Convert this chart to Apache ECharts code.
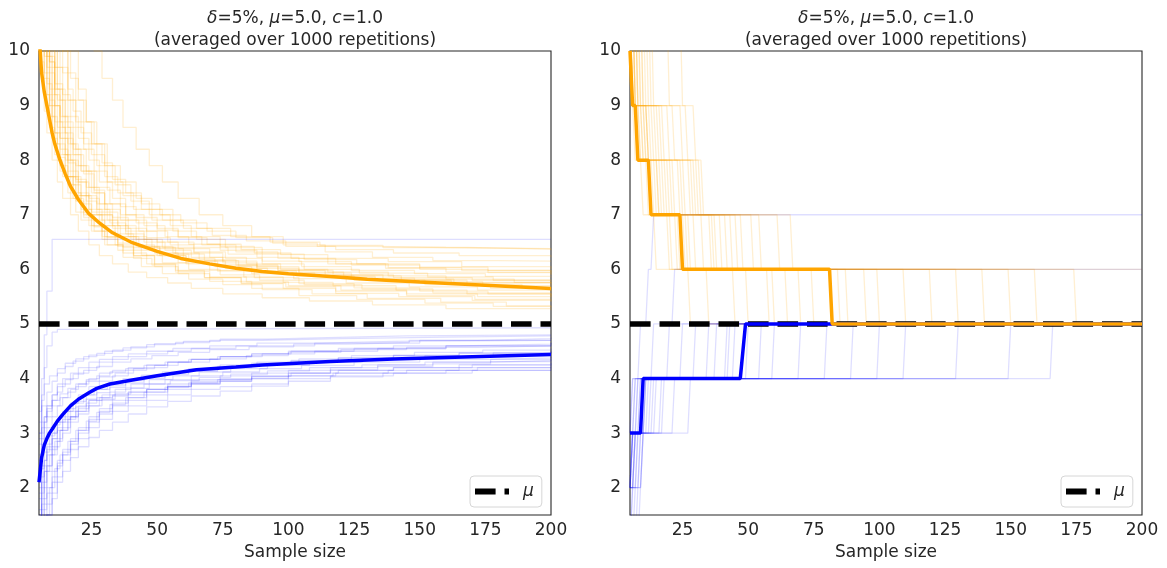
<!DOCTYPE html>
<html><head><meta charset="utf-8">
<script src="https://cdn.jsdelivr.net/npm/echarts@6/dist/echarts.min.js"></script>
<style>html,body{margin:0;padding:0;background:#fff}#c{width:1167px;height:568px}</style>
</head><body><div id="c"></div><script>
// ---------- data ----------
const X_TICKS = [25, 50, 75, 100, 125, 150, 175, 200];
const Y_TICKS = [2, 3, 4, 5, 6, 7, 8, 9, 10];
const MU = 5.0;
const X_RANGE = [5, 200];

// Left panel: individual runs, flat lists of (sample size, bound) where the bound changes
const ORANGE_L = [
  [5,12, 7,10.8, 9,9.9, 11,9.3, 13,8.8, 16,8.3, 19,7.9, 23,7.5, 27,7.2, 31,6.9, 38,6.7, 45,6.55, 52,6.4, 64,6.3, 75,6.15, 88,6.05, 104,5.95, 121,5.88, 143,5.8, 168,5.72, 189,5.67, 200,5.65],
  [5,13, 6,11.8, 8,10.6, 10,9.7, 12,9.1, 15,8.5, 18,8.1, 21,7.8, 26,7.4, 30,7.1, 36,6.9, 43,6.7, 50,6.5, 58,6.38, 70,6.22, 84,6.1, 97,6.0, 115,5.95, 138,5.88, 160,5.82, 186,5.76, 200,5.75],
  [5,11, 6,10.1, 8,9.2, 10,8.5, 12,8.0, 14,7.7, 17,7.3, 21,6.9, 25,6.7, 30,6.45, 37,6.3, 46,6.1, 57,5.98, 68,5.85, 82,5.75, 99,5.68, 118,5.6, 145,5.52, 171,5.45, 200,5.42],
  [5,14, 7,12, 10,10.8, 12,10.1, 14,9.6, 16,9.1, 19,8.7, 22,8.3, 27,7.9, 31,7.6, 37,7.35, 44,7.1, 52,6.9, 60,6.75, 71,6.62, 84,6.52, 99,6.42, 118,6.36, 140,6.3, 165,6.25, 200,6.22],
  [5,12, 7,10.3, 9,9.3, 11,8.7, 14,8.1, 17,7.7, 20,7.35, 24,7.0, 29,6.7, 34,6.45, 41,6.25, 49,6.05, 58,5.92, 70,5.78, 86,5.65, 104,5.52, 126,5.45, 152,5.38, 178,5.32, 200,5.3],
  [5,15, 9,12, 12,10.5, 14,10, 17,9.5, 20,9.1, 23,8.7, 27,8.3, 31,7.9, 36,7.6, 42,7.3, 48,7.1, 56,6.9, 65,6.75, 78,6.6, 93,6.5, 112,6.44, 136,6.4, 168,6.37, 200,6.35],
  [5,11.5, 6,10.5, 7,9.9, 9,9.1, 11,8.5, 13,8.1, 16,7.7, 19,7.35, 23,7.0, 28,6.8, 34,6.6, 42,6.42, 51,6.28, 62,6.15, 76,6.02, 92,5.93, 110,5.87, 133,5.8, 162,5.75, 200,5.7],
  [5,12.5, 7,10.9, 9,10.0, 11,9.3, 14,8.6, 17,8.0, 20,7.6, 24,7.3, 28,7.0, 33,6.8, 39,6.6, 46,6.42, 56,6.3, 66,6.18, 80,6.08, 96,5.98, 117,5.9, 140,5.85, 170,5.8, 200,5.8],
  [5,10.5, 6,9.8, 7,9.2, 9,8.6, 11,8.1, 13,7.8, 16,7.4, 19,7.05, 24,6.8, 29,6.6, 35,6.48, 41,6.35, 50,6.25, 61,6.15, 73,6.08, 88,5.97, 103,5.88, 125,5.8, 152,5.72, 177,5.65, 200,5.6],
  [5,13.5, 7,11.6, 9,10.5, 11,9.7, 13,9.1, 16,8.6, 19,8.2, 23,7.8, 27,7.5, 32,7.2, 38,6.9, 46,6.7, 54,6.5, 64,6.4, 77,6.28, 90,6.15, 105,6.05, 124,5.98, 148,5.92, 175,5.87, 200,5.85],
  [5,11, 6,10.3, 8,9.4, 10,8.8, 12,8.3, 15,7.7, 18,7.3, 22,6.95, 26,6.7, 31,6.45, 37,6.22, 44,6.05, 52,5.92, 62,5.82, 75,5.72, 90,5.63, 109,5.55, 130,5.47, 158,5.4, 183,5.33, 200,5.3],
  [5,12, 7,10.6, 9,9.8, 11,9.2, 13,8.7, 15,8.4, 18,8.1, 22,7.75, 26,7.45, 30,7.2, 36,7.0, 42,6.85, 50,6.72, 58,6.6, 67,6.45, 80,6.32, 96,6.2, 115,6.1, 138,6.03, 166,5.98, 200,5.95],
  [5,16, 9,13, 11,12, 14,10.5, 17,10, 20,9.3, 23,8.7, 26,8.3, 30,7.9, 34,7.55, 40,7.25, 47,7.0, 55,6.8, 63,6.6, 74,6.42, 87,6.3, 101,6.2, 118,6.1, 137,6.02, 160,5.95, 200,5.9],
  [5,10.8, 6,10.0, 8,9.0, 10,8.4, 12,8.05, 15,7.7, 18,7.4, 21,7.1, 25,6.8, 29,6.55, 35,6.35, 41,6.2, 48,6.08, 57,5.95, 68,5.85, 82,5.74, 98,5.65, 118,5.56, 142,5.5, 170,5.43, 200,5.4],
  [5,12, 7,10.5, 9,9.6, 11,9.0, 13,8.5, 16,8.0, 19,7.65, 23,7.35, 27,7.1, 32,6.85, 38,6.65, 45,6.5, 53,6.35, 63,6.22, 75,6.12, 88,6.02, 104,5.93, 124,5.84, 148,5.77, 174,5.7, 200,5.65],
  [5,13, 7,11.4, 10,10.2, 12,9.7, 14,9.2, 17,8.8, 20,8.4, 24,8.0, 28,7.6, 33,7.3, 38,7.0, 45,6.8, 53,6.6, 62,6.46, 74,6.35, 88,6.22, 104,6.14, 124,6.08, 150,6.0, 176,5.94, 200,5.9],
  [5,11.2, 6,10.3, 7,9.6, 9,9.0, 11,8.5, 13,8.2, 16,7.8, 20,7.4, 24,7.1, 29,6.9, 35,6.65, 41,6.45, 49,6.3, 58,6.12, 70,5.98, 83,5.86, 98,5.76, 117,5.7, 141,5.62, 168,5.55, 200,5.5],
  [5,14, 7,12.2, 9,11.0, 11,10.3, 13,9.7, 16,9.1, 19,8.6, 22,8.2, 26,7.8, 31,7.45, 36,7.15, 42,6.95, 50,6.75, 58,6.58, 69,6.46, 82,6.36, 97,6.27, 115,6.2, 138,6.14, 166,6.05, 200,6.0],
  [5,11.8, 6,11.0, 8,9.9, 10,9.2, 12,8.6, 15,8.1, 18,7.7, 21,7.35, 25,7.05, 30,6.8, 36,6.6, 43,6.4, 51,6.25, 61,6.1, 73,5.97, 87,5.85, 104,5.74, 125,5.66, 150,5.6, 176,5.55, 200,5.5],
  [5,12.8, 7,11.0, 9,10.1, 11,9.4, 14,8.8, 17,8.3, 20,7.9, 24,7.5, 28,7.2, 33,6.95, 39,6.75, 46,6.58, 55,6.45, 64,6.32, 76,6.2, 90,6.1, 106,6.0, 127,5.93, 153,5.86, 178,5.8, 200,5.75],
  [5,16, 12,13, 18,11.5, 22,10.5, 26,10.0, 29,9.5, 33,9.1, 37,8.6, 42,8.2, 47,7.9, 52,7.6, 58,7.3, 66,7.0, 75,6.8, 86,6.6, 98,6.45, 114,6.32, 132,6.22, 155,6.16, 180,6.15, 200,6.15],
  [5,10.2, 6,9.5, 7,8.9, 8,8.5, 10,8.0, 12,7.6, 14,7.3, 17,7.0, 20,6.7, 24,6.45, 28,6.25, 33,6.1, 39,5.95, 46,5.85, 54,5.75, 63,5.65, 75,5.55, 90,5.48, 108,5.42, 132,5.35, 160,5.28, 200,5.25],
  [5,13, 7,11.2, 9,10.2, 12,9.3, 15,8.7, 18,8.2, 21,7.8, 25,7.4, 30,7.05, 35,6.8, 42,6.55, 50,6.38, 60,6.2, 72,6.05, 86,5.92, 102,5.83, 122,5.75, 146,5.68, 172,5.62, 200,5.58],
  [5,11.4, 6,10.6, 8,9.7, 10,9.0, 13,8.4, 16,7.95, 19,7.6, 23,7.25, 27,7.0, 33,6.75, 40,6.55, 48,6.4, 57,6.28, 68,6.16, 81,6.06, 96,5.98, 114,5.9, 136,5.82, 163,5.76, 200,5.72],
  [5,15, 8,12.5, 11,11, 14,10.2, 16,9.6, 19,9.1, 22,8.7, 25,8.3, 29,7.95, 33,7.65, 38,7.4, 44,7.2, 51,7.0, 59,6.85, 69,6.7, 80,6.58, 94,6.48, 111,6.42, 133,6.4, 160,6.38, 200,6.38],
  [5,12.2, 7,10.8, 9,9.8, 11,9.0, 13,8.4, 15,8.0, 18,7.55, 21,7.2, 25,6.9, 30,6.6, 35,6.42, 41,6.25, 49,6.1, 58,5.97, 70,5.86, 84,5.77, 100,5.7, 120,5.62, 145,5.55, 172,5.5, 200,5.45],
  [5,14.5, 8,12.2, 10,11.0, 13,10.0, 16,9.3, 18,8.9, 21,8.5, 25,8.1, 30,7.7, 35,7.4, 41,7.1, 48,6.9, 56,6.7, 65,6.55, 76,6.4, 90,6.28, 106,6.18, 126,6.1, 150,6.04, 176,5.98, 200,5.95],
  [5,10.9, 6,10.2, 7,9.5, 9,8.8, 11,8.3, 13,7.9, 16,7.55, 19,7.25, 22,7.0, 26,6.78, 31,6.58, 37,6.4, 44,6.26, 52,6.12, 62,6.0, 74,5.9, 89,5.8, 106,5.72, 128,5.64, 155,5.57, 200,5.52]
];
const BLUE_L = [
  [5,1.0, 6,1.6, 7,2.0, 8,2.3, 10,2.6, 12,2.85, 14,3.0, 17,3.2, 20,3.35, 24,3.5, 29,3.62, 34,3.72, 40,3.82, 47,3.9, 55,3.96, 66,4.02, 78,4.08, 92,4.14, 108,4.2, 128,4.25, 152,4.3, 178,4.33, 200,4.35],
  [5,2.0, 6,2.4, 8,2.75, 10,3.0, 12,3.2, 15,3.4, 18,3.55, 22,3.7, 26,3.8, 31,3.9, 37,4.0, 44,4.06, 52,4.12, 62,4.18, 74,4.25, 88,4.3, 104,4.36, 124,4.42, 148,4.48, 174,4.52, 200,4.55],
  [5,0.5, 6,1.0, 7,1.4, 8,1.7, 10,2.1, 12,2.4, 14,2.6, 17,2.8, 20,3.0, 24,3.2, 28,3.35, 33,3.5, 39,3.6, 46,3.7, 54,3.8, 63,3.9, 74,3.95, 86,4.0, 100,4.05, 117,4.1, 138,4.15, 165,4.2, 200,4.2],
  [5,2.8, 6,3.1, 7,3.3, 8,3.5, 10,3.7, 12,3.85, 15,3.98, 18,4.08, 22,4.15, 27,4.22, 33,4.3, 40,4.36, 48,4.42, 58,4.48, 70,4.53, 85,4.58, 102,4.63, 122,4.66, 146,4.7, 172,4.73, 200,4.75],
  [5,1.5, 6,2.0, 7,2.3, 9,2.6, 11,2.85, 13,3.05, 16,3.25, 19,3.4, 23,3.55, 27,3.65, 32,3.75, 38,3.83, 45,3.9, 53,3.98, 63,4.05, 75,4.12, 89,4.18, 105,4.24, 125,4.3, 150,4.35, 176,4.38, 200,4.4],
  [5,0.2, 6,0.8, 7,1.2, 8,1.5, 10,1.8, 12,2.1, 14,2.3, 17,2.55, 20,2.75, 24,2.92, 28,3.05, 33,3.2, 39,3.35, 46,3.48, 54,3.58, 63,3.68, 74,3.77, 86,3.86, 100,3.95, 116,4.03, 136,4.1, 160,4.15, 200,4.2],
  [5,2.4, 6,2.8, 7,3.1, 8,3.3, 10,3.5, 13,3.65, 16,3.75, 19,3.85, 23,3.95, 28,4.03, 34,4.1, 41,4.18, 49,4.24, 58,4.3, 70,4.36, 84,4.42, 100,4.48, 120,4.53, 145,4.57, 172,4.6, 200,4.6],
  [5,1.2, 6,1.7, 7,2.1, 8,2.4, 10,2.7, 12,2.9, 14,3.1, 17,3.3, 20,3.45, 24,3.6, 29,3.7, 34,3.8, 40,3.9, 47,3.98, 56,4.05, 66,4.12, 78,4.18, 92,4.24, 108,4.3, 128,4.36, 152,4.42, 178,4.47, 200,4.5],
  [5,3.2, 6,3.5, 8,3.75, 10,3.95, 12,4.1, 15,4.22, 18,4.32, 22,4.4, 27,4.46, 33,4.52, 40,4.58, 49,4.64, 60,4.68, 74,4.72, 92,4.75, 115,4.78, 145,4.8, 200,4.8],
  [5,1.8, 6,2.2, 7,2.5, 8,2.7, 10,2.9, 12,3.05, 14,3.2, 17,3.3, 20,3.4, 24,3.5, 28,3.6, 33,3.68, 39,3.75, 46,3.8, 54,3.86, 63,3.92, 74,3.98, 86,4.03, 100,4.1, 116,4.16, 134,4.22, 155,4.27, 177,4.31, 200,4.35],
  [5,0.8, 6,1.3, 7,1.7, 8,2.0, 10,2.3, 12,2.5, 14,2.7, 17,2.9, 20,3.1, 24,3.3, 28,3.45, 33,3.6, 39,3.7, 46,3.8, 54,3.9, 63,3.98, 74,4.05, 86,4.1, 100,4.15, 116,4.2, 134,4.25, 155,4.3, 177,4.35, 200,4.4],
  [5,2.2, 6,2.6, 7,2.9, 8,3.1, 10,3.3, 12,3.5, 14,3.65, 17,3.8, 20,3.9, 24,4.0, 28,4.1, 33,4.15, 39,4.2, 46,4.25, 54,4.3, 63,4.35, 74,4.4, 90,4.45, 110,4.5, 134,4.55, 160,4.6, 200,4.65],
  [5,1.4, 6,1.9, 7,2.3, 8,2.6, 10,2.9, 12,3.1, 14,3.25, 17,3.4, 20,3.5, 24,3.6, 28,3.65, 33,3.7, 39,3.75, 46,3.8, 54,3.85, 63,3.9, 74,3.95, 86,4.0, 100,4.05, 118,4.1, 145,4.15, 172,4.2, 200,4.25],
  [5,2.6, 6,3.0, 7,3.3, 8,3.5, 10,3.7, 12,3.9, 14,4.0, 17,4.1, 20,4.2, 24,4.3, 28,4.35, 33,4.4, 39,4.45, 46,4.5, 56,4.55, 70,4.6, 88,4.65, 112,4.68, 140,4.7, 200,4.7],
  [5,0.0, 6,0.6, 7,1.1, 8,1.5, 10,1.9, 12,2.2, 14,2.5, 17,2.7, 20,2.9, 24,3.1, 28,3.25, 33,3.4, 39,3.5, 46,3.6, 54,3.7, 63,3.8, 74,3.85, 86,3.9, 100,4.0, 116,4.05, 140,4.1, 170,4.15, 200,4.15],
  [5,3.0, 6,3.6, 7,4.2, 8,4.6, 10,4.85, 12,4.9, 15,4.93, 200,4.93],
  [5,3.0, 6,4.0, 7,4.8, 8,5.6, 10,6.55, 200,6.55],
  [5,1.6, 6,2.1, 7,2.5, 8,2.8, 10,3.0, 12,3.2, 14,3.4, 17,3.55, 20,3.7, 24,3.85, 28,3.95, 33,4.05, 39,4.15, 46,4.2, 54,4.3, 63,4.35, 74,4.4, 86,4.45, 100,4.5, 125,4.55, 160,4.6, 200,4.6],
  [5,0.6, 6,1.2, 7,1.6, 8,1.9, 10,2.2, 12,2.45, 14,2.65, 17,2.85, 20,3.05, 24,3.25, 28,3.4, 33,3.55, 39,3.65, 46,3.75, 54,3.85, 63,3.95, 74,4.0, 86,4.05, 100,4.1, 116,4.15, 140,4.2, 170,4.25, 200,4.3],
  [5,2.5, 6,2.9, 7,3.2, 8,3.4, 10,3.6, 12,3.75, 14,3.9, 17,4.0, 20,4.1, 24,4.2, 28,4.3, 33,4.35, 39,4.4, 46,4.45, 54,4.5, 63,4.55, 80,4.6, 110,4.65, 150,4.7, 200,4.7],
  [5,1.1, 6,1.8, 8,2.4, 10,2.75, 13,3.05, 16,3.3, 19,3.48, 23,3.62, 27,3.74, 32,3.84, 38,3.92, 45,4.0, 53,4.07, 62,4.13, 73,4.2, 86,4.26, 101,4.32, 119,4.38, 140,4.43, 165,4.47, 200,4.5],
  [5,2.9, 6,3.2, 8,3.45, 10,3.6, 13,3.72, 16,3.82, 19,3.9, 23,3.98, 27,4.05, 32,4.12, 38,4.18, 45,4.24, 53,4.3, 62,4.35, 73,4.4, 86,4.45, 101,4.5, 119,4.55, 140,4.6, 165,4.63, 200,4.66],
  [5,0.3, 6,0.9, 7,1.5, 9,2.0, 11,2.35, 13,2.6, 16,2.85, 19,3.05, 23,3.22, 27,3.38, 32,3.52, 38,3.65, 45,3.75, 53,3.84, 62,3.92, 73,3.98, 86,4.04, 101,4.1, 119,4.15, 140,4.2, 165,4.25, 200,4.28],
  [5,1.9, 6,2.35, 7,2.65, 9,2.95, 11,3.15, 13,3.3, 16,3.45, 19,3.58, 23,3.7, 27,3.8, 32,3.88, 38,3.96, 45,4.03, 53,4.1, 62,4.16, 73,4.22, 86,4.28, 101,4.33, 119,4.38, 140,4.42, 165,4.46, 200,4.48],
  [5,3.4, 6,3.7, 7,3.9, 9,4.05, 12,4.18, 15,4.28, 19,4.36, 24,4.43, 30,4.5, 37,4.56, 46,4.62, 57,4.66, 70,4.7, 90,4.73, 120,4.76, 160,4.78, 200,4.78]
];
// Left panel: averaged curves
const OM_X = [5,6,7,8,9,10,11,12,13,15,17,20,24,28,33,40,50,59,70,80,90,100,116,130,150,175,200];
const OM_Y = [10.3,9.6,9.25,9.0,8.75,8.5,8.3,8.15,8.0,7.75,7.52,7.28,7.02,6.85,6.67,6.5,6.33,6.2,6.1,6.02,5.96,5.92,5.87,5.82,5.77,5.71,5.65];
const BM_X = [5,6,7,8,9,10,12,14,17,20,24,27,32,40,50,65,80,90,116,140,170,200];
const BM_Y = [2.1,2.55,2.78,2.9,3.0,3.07,3.22,3.34,3.5,3.62,3.74,3.82,3.9,3.97,4.05,4.16,4.21,4.25,4.31,4.36,4.4,4.44];

// Right panel: integer-valued runs, [start value, [[sample size, new value], ...]]
const ORANGE_R = [
  [11, [[7,9],[12,8],[18,7],[30,6],[60,5]]],
  [11, [[6,9],[9,8],[14,7],[24,6],[45,5]]],
  [11, [[10,9],[20,8],[28,7],[40,6],[110,5]]],
  [11, [[8,9],[11,8],[16,7],[26,6],[82,5]]],
  [11, [[6,9],[8,8],[12,7],[20,6],[35,5]]],
  [11, [[12,9],[25,8],[32,7],[55,6],[150,5]]],
  [11, [[7,9],[10,8],[22,7],[37,6],[70,5]]],
  [11, [[9,9],[14,8],[19,7],[33,6],[95,5]]],
  [11, [[6,9],[7,8],[10,7],[15,6],[28,5]]],
  [11, [[14,9],[17,8],[25,7],[48,6],[175,5]]],
  [11, [[8,9],[13,8],[24,7],[42,6],[130,5]]],
  [11, [[7,9],[9,8],[13,7],[21,6],[50,5]]],
  [11, [[11,9],[18,8],[30,7],[62,6],[120,5]]],
  [11, [[6,9],[10,8],[15,7],[28,6],[75,5]]],
  [11, [[9,9],[16,8],[26,7],[44,6],[100,5]]],
  [11, [[20,9],[27,8],[31,7],[67,6]]],
  [11, [[7,9],[12,8],[17,7],[23,6],[88,5]]],
  [11, [[8,9],[15,8],[21,7],[36,6],[160,5]]],
  [11, [[10,9],[12,8],[20,7],[38,6],[65,5]]],
  [11, [[6,9],[11,8],[16,7],[27,6],[58,5]]],
  [11, [[25,9],[30,8],[33,7],[52,6],[140,5]]],
  [11, [[13,9],[22,8],[29,7],[46,6],[85,5]]]
];
const BLUE_R = [
  [1, [[6,2],[9,3],[15,4],[50,5]]],
  [2, [[7,3],[10,4],[30,5]]],
  [2, [[6,3],[12,4],[70,5]]],
  [1, [[7,2],[8,3],[11,4],[45,5]]],
  [2, [[9,3],[14,4],[110,5]]],
  [3, [[6,4],[20,5]]],
  [2, [[6,3],[8,4],[38,5]]],
  [1, [[8,2],[10,3],[18,4],[90,5]]],
  [2, [[7,3],[13,4],[166,5]]],
  [3, [[6,4],[9,5],[12,6],[14,7]]],
  [2, [[8,3],[28,4],[60,5]]],
  [2, [[6,3],[9,4],[25,5]]],
  [1, [[6,2],[7,3],[11,4],[80,5]]],
  [3, [[7,4],[14,5],[22,6]]],
  [2, [[10,3],[17,4],[130,5]]],
  [2, [[6,3],[10,4],[55,5]]],
  [2, [[7,3],[9,4],[35,5]]],
  [1, [[9,2],[10,3],[22,4],[100,5]]],
  [3, [[8,4],[42,5]]],
  [2, [[6,3],[11,4],[150,5]]],
  [2, [[6,3],[7,4],[43,5]]]
];
const OM_R = [[5,10],[6,9],[7,9],[8,8],[12,8],[13,7],[24,7],[25,6],[81,6],[82,5],[200,5]];
const BM_R = [[5,3],[9,3],[10,4],[47,4],[49,5],[200,5]];

// ---------- chart ----------
const INK = '#262626';
const FONT = 'DejaVu Sans';
const FAINT_O = 'rgba(255,165,0,0.18)';
const FAINT_B = 'rgba(0,0,255,0.13)';

function pairs(flat) {
  const out = [];
  for (let i = 0; i < flat.length; i += 2) out.push([flat[i], flat[i + 1]]);
  return out;
}
function stepRun(start, steps) {
  const pts = [[X_RANGE[0], start]];
  let v = start;
  steps.forEach(([x, nv]) => { pts.push([x - 1, v]); pts.push([x, nv]); v = nv; });
  pts.push([X_RANGE[1], v]);
  return pts;
}
function line(idx, data, color, width, z, extra) {
  return Object.assign({
    type: 'line', xAxisIndex: idx, yAxisIndex: idx, data: data,
    symbol: 'none', silent: true, animation: false, z: z,
    lineStyle: { color: color, width: width }
  }, extra || {});
}
const series = [];
ORANGE_L.forEach(r => series.push(line(0, pairs(r), FAINT_O, 1.3, 2, { step: 'end' })));
BLUE_L.forEach(r => series.push(line(0, pairs(r), FAINT_B, 1.3, 2, { step: 'end' })));
ORANGE_R.forEach(r => series.push(line(1, stepRun(r[0], r[1]), FAINT_O, 1.3, 2)));
BLUE_R.forEach(r => series.push(line(1, stepRun(r[0], r[1]), FAINT_B, 1.3, 2)));
[0, 1].forEach(idx => {
  series.push(line(idx, [[X_RANGE[0], MU], [X_RANGE[1], MU]], '#000', 5.5, 3, {
    name: 'μ', itemStyle: { color: '#000' },
    lineStyle: { color: '#000', width: 5.5, type: [20.6, 8.9] }
  }));
});
series.push(line(0, BM_X.map((x, i) => [x, BM_Y[i]]), '#0000FF', 3.5, 4));
series.push(line(0, OM_X.map((x, i) => [x, OM_Y[i]]), '#FFA500', 3.5, 4));
series.push(line(1, BM_R, '#0000FF', 3.5, 4));
series.push(line(1, OM_R, '#FFA500', 3.5, 5));

const grids = [
  { left: 39, top: 51, width: 512, height: 464 },
  { left: 630, top: 51, width: 512, height: 464 }
];
const titleText = '{i|δ}=5%, {i|μ}=5.0, {i|c}=1.0\n(averaged over 1000 repetitions)';
const rich = { i: { fontStyle: 'italic', fontFamily: FONT, fontSize: 17, color: INK, lineHeight: 22 } };

const option = {
  animation: false,
  backgroundColor: '#fff',
  textStyle: { fontFamily: FONT },
  title: [295, 886].map(cx => ({
    text: titleText, left: cx, top: 8, textAlign: 'center', padding: 0,
    textStyle: { fontFamily: FONT, fontSize: 17, fontWeight: 'normal', color: INK, lineHeight: 22, rich: rich }
  })),
  legend: [470, 1061].map(lx => ({
    data: ['μ'], left: lx, top: 476, orient: 'vertical',
    icon: 'path://M0,0H20.6V6H0Z M29.5,0H34V6H29.5Z',
    itemWidth: 34, itemHeight: 6,
    itemStyle: { color: '#000', borderWidth: 0 },
    padding: [7, 8, 7, 5],
    backgroundColor: '#fff', borderColor: '#d6d6d6', borderWidth: 1, borderRadius: 4,
    textStyle: { fontFamily: FONT, fontSize: 17, fontStyle: 'italic', color: INK, padding: [0, 0, 0, 9] },
    selectedMode: false
  })),
  grid: grids.map(g => Object.assign({ show: true, borderColor: INK, borderWidth: 1.1, backgroundColor: '#fff' }, g)),
  xAxis: [0, 1].map(i => ({
    type: 'value', gridIndex: i, min: X_RANGE[0], max: X_RANGE[1],
    name: 'Sample size', nameLocation: 'middle', nameGap: 28,
    nameTextStyle: { fontFamily: FONT, fontSize: 17, color: INK },
    axisLine: { show: false }, axisTick: { show: false }, splitLine: { show: false },
    axisLabel: { customValues: X_TICKS, fontFamily: FONT, fontSize: 17, color: INK, margin: 7 }
  })),
  yAxis: [0, 1].map(i => ({
    type: 'value', gridIndex: i, min: 1.5, max: 10,
    axisLine: { show: false }, axisTick: { show: false }, splitLine: { show: false },
    axisLabel: { customValues: Y_TICKS, fontFamily: FONT, fontSize: 17, color: INK, margin: 9 }
  })),
  series: series
};
const chart = echarts.init(document.getElementById('c'), null, { renderer: 'canvas' });
chart.setOption(option);
</script></body></html>
